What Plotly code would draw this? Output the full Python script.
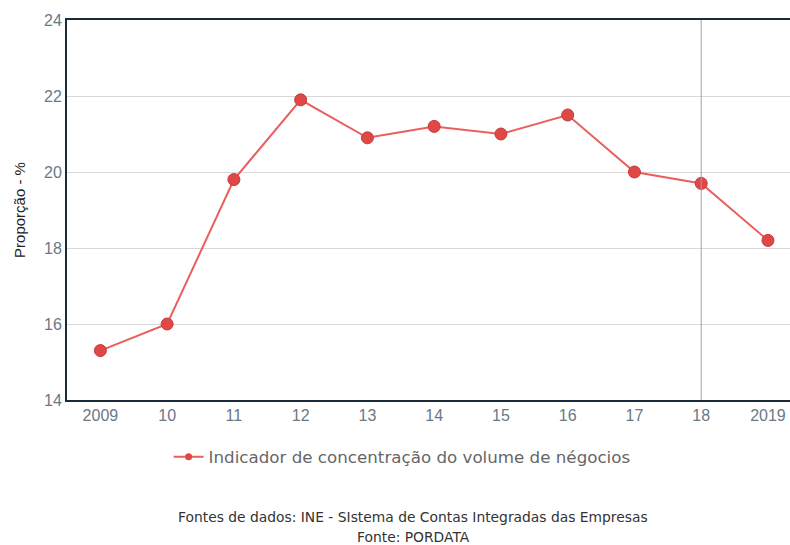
import plotly.graph_objects as go

categories = ["2009", "10", "11", "12", "13", "14", "15", "16", "17", "18", "2019"]
values = [15.3, 16.0, 19.8, 21.9, 20.9, 21.2, 21.0, 21.5, 20.0, 19.7, 18.2]
series_name = "Indicador de concentração do volume de négocios"
y_title = "Proporção - %"
footer_lines = ["Fontes de dados: INE - SIstema de Contas Integradas das Empresas", "Fonte: PORDATA"]

fig = go.Figure()
fig.add_trace(go.Scatter(
    x=list(range(len(categories))), y=values, mode="lines+markers", name=series_name,
    line=dict(color="#ea5f5b", width=2),
    marker=dict(size=12, color="#e04848", line=dict(color="#c43a3a", width=1)),
    showlegend=False,
))
# legend entry with a smaller symbol, like the reference
fig.add_trace(go.Scatter(
    x=[None], y=[None], mode="lines+markers", name=series_name,
    line=dict(color="#ea5f5b", width=2),
    marker=dict(size=7, color="#e04848"),
))

fig.add_shape(type="line", xref="x", yref="paper", x0=9, x1=9, y0=0, y1=1,
              line=dict(color="#a0a0a0", width=1))

fig.update_layout(
    width=790, height=545,
    margin=dict(l=67, r=0, t=20, b=145),
    paper_bgcolor="white", plot_bgcolor="white",
    font=dict(family="Liberation Sans, Arial", size=16, color="#666"),
    xaxis=dict(
        range=[-0.5, 10.33], tickmode="array", tickvals=list(range(len(categories))),
        ticktext=categories, showgrid=False, showline=True, linecolor="#1c2b3a", linewidth=2,
        mirror=True, ticks="", zeroline=False, automargin=False,
        tickfont=dict(size=16, color="#6b7886"),
    ),
    yaxis=dict(
        range=[14, 24], dtick=2, showgrid=True, gridcolor="#d8d8d8", gridwidth=1,
        showline=True, linecolor="#1c2b3a", linewidth=2, mirror=False, zeroline=False,
        automargin=False, tickfont=dict(size=16, color="#6b7886"),
        title=dict(text=y_title, font=dict(size=15, color="#222")),
    ),
    showlegend=True,
    legend=dict(orientation="h", xref="container", yref="container", x=0.509, xanchor="center",
                y=1 - 457 / 545, yanchor="middle",
                font=dict(family="DejaVu Sans, Verdana", size=16.7, color="#666")),
)

for i, line in enumerate(footer_lines):
    fig.add_annotation(
        text=line, xref="paper", yref="paper",
        x=(413 - 67) / 723, y=-(517 + 20 * i - 400) / 380, xanchor="center", yanchor="middle",
        showarrow=False, align="center",
        font=dict(family="DejaVu Sans, Verdana", size=13.85, color="#333"),
    )

fig.write_html("out.html", config={"displayModeBar": False},
               post_script="document.body.style.margin='0';")
